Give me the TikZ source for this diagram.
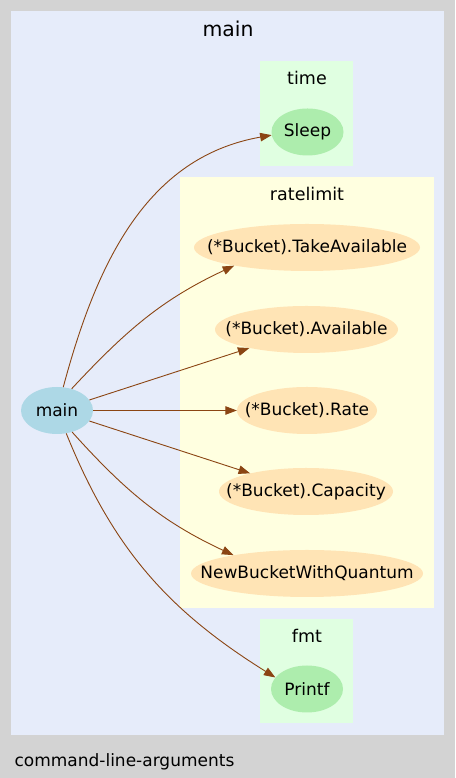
\documentclass[tikz,border=0pt]{standalone}
\usepackage{fontspec}
\setmainfont{DejaVu Sans}
\usetikzlibrary{arrows.meta, shapes.geometric}
\definecolor{bggray}{HTML}{D3D3D3}
\definecolor{focusblue}{HTML}{E6ECFA}
\definecolor{stdgreen}{HTML}{E0FFE1}
\definecolor{pkgyellow}{HTML}{FFFFE0}
\definecolor{fnorange}{HTML}{FFE4B5}
\definecolor{fngreen}{HTML}{ADEDAD}
\definecolor{mainblue}{HTML}{ADD8E6}
\definecolor{edgebrown}{HTML}{8B4513}

\begin{document}
\begin{tikzpicture}[x=1pt, y=1pt,
  fn/.style={ellipse, inner sep=0pt, minimum height=47pt, fill=#1},
  every label/.style={font=\fontsize{17}{20}\selectfont},
  pkgname/.style={anchor=base, font=\fontsize{17.5}{20}\selectfont},
  call/.style={edgebrown, line width=0.9pt, -{Triangle[length=11.5pt,width=8.5pt]}}]
\fill[bggray] (0,0) rectangle (455,778);
\useasboundingbox (0,0) rectangle (455,778);
\fill[focusblue] (11,43) rectangle (444,767);
\node[anchor=base, font=\fontsize{20.4}{24}\selectfont] (maintitle) at (228,741) {main};
\fill[stdgreen] (260,612) rectangle (353,717);
\node[pkgname] (timetitle) at (307,693) {time};
\fill[pkgyellow] (180,170) rectangle (434,601);
\node[pkgname] (ratetitle) at (307,577) {ratelimit};
\fill[stdgreen] (260,55) rectangle (353,159);
\node[pkgname] (fmttitle) at (307,135) {fmt};
\node[anchor=base west, font=\fontsize{17}{20}\selectfont] (pkgpath) at (11,11) {command-line-arguments};

\node[fn=mainblue, minimum width=72pt, label=center:main] (main) at (57,367.5) {};
\node[fn=fngreen, minimum width=72pt, label=center:Sleep] (sleep) at (307.5,646) {};
\node[fn=fnorange, minimum width=226pt, label=center:(*Bucket).TakeAvailable] (takeavail) at (307,530.5) {};
\node[fn=fnorange, minimum width=183pt, label=center:(*Bucket).Available] (avail) at (306.5,448.5) {};
\node[fn=fnorange, minimum width=140pt, label=center:(*Bucket).Rate] (rate) at (307,367.5) {};
\node[fn=fnorange, minimum width=174pt, label=center:(*Bucket).Capacity] (capacity) at (306,286.5) {};
\node[fn=fnorange, minimum width=232pt, label=center:NewBucketWithQuantum] (newbucket) at (307,204.5) {};
\node[fn=fngreen, minimum width=72pt, label=center:Printf] (printf) at (307,89) {};

\draw[call] (main.75) to[out=75, in=190] (sleep.185);
\draw[call] (main.56) to[out=47, in=205] (takeavail.194);
\draw[call] (main) -- (avail);
\draw[call] (main) -- (rate);
\draw[call] (main) -- (capacity);
\draw[call] (main.-55) to[out=-48, in=155] (newbucket.166);
\draw[call] (main.-68) to[out=-68, in=148] (printf.160);
\end{tikzpicture}
\end{document}
